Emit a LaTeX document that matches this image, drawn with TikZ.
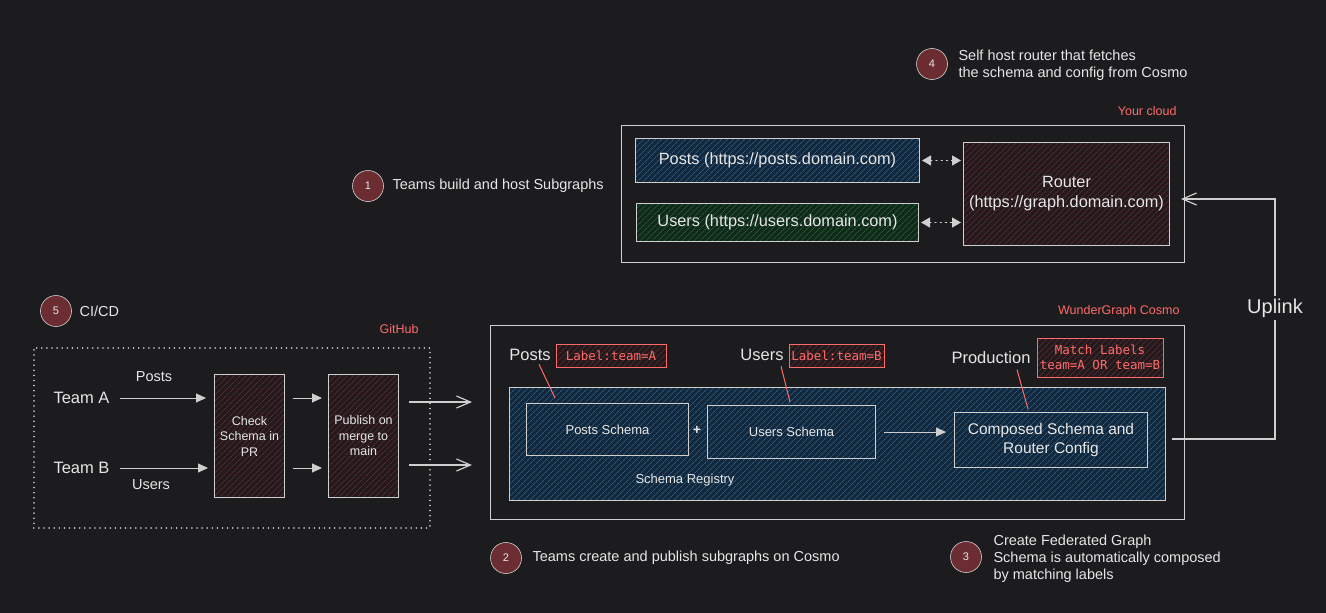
\documentclass[tikz,border=0pt]{standalone}
\usepackage{fontspec}
\setmainfont{Liberation Sans}
\newfontfamily\monof{DejaVu Sans Mono}
\usetikzlibrary{arrows.meta,patterns.meta,calc}
\definecolor{bg}{HTML}{1C1C1F}
\definecolor{stroke}{HTML}{CFCFCF}
\definecolor{txt}{HTML}{E6E6E6}
\definecolor{redT}{HTML}{FF6B6B}
\definecolor{circF}{HTML}{6B2D31}
\definecolor{blueF}{HTML}{13283B}
\definecolor{blueH}{HTML}{2B5C88}
\definecolor{greenF}{HTML}{11291A}
\definecolor{greenH}{HTML}{225E33}
\definecolor{redF}{HTML}{221A1C}
\definecolor{redH}{HTML}{5E2A2F}
\begin{document}
\begin{tikzpicture}[x=1pt,y=-1pt,
  fbig/.style={font=\fontsize{16.3}{20}\selectfont},
  fmid/.style={font=\fontsize{14.5}{17}\selectfont},
  fsmall/.style={font=\fontsize{13}{15.5}\selectfont},
  fsmaller/.style={font=\fontsize{12.5}{15.5}\selectfont},
  flab/.style={font=\fontsize{16.5}{20}\selectfont},
  box/.style={draw=stroke, line width=1pt, inner sep=2pt, align=center, text=txt, anchor=north west},
  frame/.style={draw=stroke, line width=1.2pt, anchor=north west},
  hblue/.style={preaction={fill=blueF}, preaction={pattern={Lines[angle=45,distance=4pt,line width=0.8pt]}, pattern color=blueH}},
  hgreen/.style={preaction={fill=greenF}, preaction={pattern={Lines[angle=45,distance=4pt,line width=0.8pt]}, pattern color=greenH}},
  hred/.style={preaction={fill=redF}, preaction={pattern={Lines[angle=45,distance=4pt,line width=0.8pt]}, pattern color=redH}},
  num/.style={circle, draw=stroke, line width=0.6pt, fill=circF, minimum size=31pt, inner sep=0pt, text=txt, font=\fontsize{11}{13}\selectfont},
  note/.style={text=txt, anchor=west, align=left, fmid},
  redlbl/.style={text=redT, font=\fontsize{12.5}{14}\selectfont},
  tagbox/.style={draw=redT, line width=1pt, hred, text=redT, align=center, inner sep=2pt, font=\monof\fontsize{12.5}{15}\selectfont},
  plain/.style={text=txt, align=center},
  arr/.style={draw=stroke, line width=1pt, -{Triangle[length=10pt,width=9pt]}},
  openarr/.style={draw=stroke, line width=1.2pt, -{Straight Barb[length=14pt,width=12pt]}},
  dblarr/.style={draw=stroke, line width=1.2pt, dash pattern=on 1.2pt off 4pt, line cap=round, {Triangle[length=9pt,width=10pt]}-{Triangle[length=9pt,width=10pt]}, shorten <=2pt, shorten >=2pt},
  redline/.style={draw=redT, line width=1pt}
]
\fill[bg] (0,0) rectangle (1326,613);
\useasboundingbox (0,0) rectangle (1326,613);

% --- Your cloud ---
\node[num] (n4) at (932,64) {4};
\node[note] (t4) at (955,65) {Self host router that fetches\\the schema and config from Cosmo};
\node[redlbl, anchor=east] (ycl) at (1180,111) {Your cloud};
\node[frame, minimum width=563, minimum height=137] (cloud) at (621,125) {};
\node[box, hblue, minimum width=284, minimum height=44, fbig] (posts) at (635,138) {Posts (https://posts.domain.com)};
\node[box, hgreen, minimum width=282, minimum height=38, fbig] (users) at (636,203) {Users (https://users.domain.com)};
\node[box, hred, minimum width=206, minimum height=103, fbig] (router) at (963,142) {Router\\(https://graph.domain.com)};
\draw[dblarr] (posts.east) -- (posts.east -| router.west);
\draw[dblarr] (users.east) -- (users.east -| router.west);

% --- step 1 ---
\node[num] (n1) at (368,186) {1};
\node[note] (t1) at (389,186) {Teams build and host Subgraphs};

% --- GitHub ---
\node[num] (n5) at (56,311) {5};
\node[note] (t5) at (76,311) {CI/CD};
\node[redlbl, anchor=east] (ghl) at (422,329) {GitHub};
\node[anchor=north west, draw=stroke, line width=1.5pt, dash pattern=on 0.1pt off 5pt, line cap=round, minimum width=396, minimum height=180] (gh) at (33,347) {};
\node[plain, anchor=west, flab] (ta) at (50,398) {Team A};
\node[plain, anchor=west, flab] (tb) at (50,468) {Team B};
\node[box, hred, minimum width=70, minimum height=123, fsmaller] (check) at (214,374) {Check\\Schema in\\PR};
\node[box, hred, minimum width=70, minimum height=123, fsmaller] (publish) at (328,374) {Publish on\\merge to\\main};
\draw[arr, shorten <=7pt, shorten >=8pt] (ta.east) -- (check.west |- ta.east);
\draw[arr, shorten <=7pt, shorten >=6pt] (tb.east) -- (check.west |- tb.east);
\node[plain, fmid] (lp) at (154,377) {Posts};
\node[plain, fmid] (lu) at (151,485) {Users};
\draw[arr, shorten <=8pt, shorten >=6pt] (check.east |- ta.east) -- (publish.west |- ta.east);
\draw[arr, shorten <=8pt, shorten >=6pt] (check.east |- tb.east) -- (publish.west |- tb.east);

% --- Cosmo ---
\node[redlbl, anchor=east] (wgl) at (1183,311) {WunderGraph Cosmo};
\node[frame, minimum width=694, minimum height=194] (cosmo) at (490,325) {};
\coordinate (ya) at (0,402);
\coordinate (yb) at (0,465);
\draw[openarr, shorten <=10pt, shorten >=18pt] (publish.east |- ya) -- (cosmo.west |- ya);
\draw[openarr, shorten <=10pt, shorten >=18pt] (publish.east |- yb) -- (cosmo.west |- yb);

\node[box, hblue, minimum width=656, minimum height=113] (registry) at (509,387) {};
\node[plain, fsmall] (regl) at (685,480) {Schema Registry};
\node[box, minimum width=162, minimum height=52, fsmall] (postsS) at (526,403) {Posts Schema};
\node[box, minimum width=168, minimum height=53, fsmall] (usersS) at (707,405) {Users Schema};
\node[plain, font=\bfseries\fontsize{14}{16}\selectfont] (plus) at (697,430) {+};
\node[box, minimum width=193, minimum height=55, font=\fontsize{15.5}{19.5}\selectfont] (composed) at (954,412) {Composed Schema and\\Router Config};
\draw[arr, shorten <=8pt, shorten >=8pt] (usersS.east) -- (composed.west |- usersS.east);

\node[plain, flab] (postsL) at (530,355) {Posts};
\node[tagbox, minimum width=110, minimum height=23] (labA) at (611,355.5) {Label:team=A};
\node[plain, flab] (usersL) at (762,355) {Users};
\node[tagbox, minimum width=95, minimum height=23] (labB) at (836.5,355.5) {Label:team=B};
\node[plain, flab] (prodL) at (991,358) {Production};
\node[tagbox, minimum width=126, minimum height=39, font=\monof\fontsize{12.5}{14.5}\selectfont] (match) at (1100,357.5) {Match Labels\\team=A OR team=B};
\coordinate (pa) at (555,398);
\coordinate (pb) at (790,402);
\coordinate (pc) at (1028,409);
\draw[redline] ($(postsL.south)+(9,0)$) -- (pa);
\draw[redline] ($(usersL.south)+(19,2)$) -- (pb);
\draw[redline] ($(prodL.south)+(26,2)$) -- (pc);

% --- Uplink ---
\coordinate (ups) at (1172,439);
\coordinate (upc) at (1275,199);
\draw[openarr, shorten >=11pt] (ups) -| (upc) -- (router.east |- upc);
\node[plain, fill=bg, font=\fontsize{20}{24}\selectfont, inner sep=3pt] (uplink) at (1275,308) {Uplink};

% --- steps 2, 3 ---
\node[num] (n2) at (506,558) {2};
\node[note] (t2) at (529,558) {Teams create and publish subgraphs on Cosmo};
\node[num] (n3) at (966,557) {3};
\node[note] (t3) at (990,559) {Create Federated Graph\\Schema is automatically composed\\by matching labels};
\end{tikzpicture}
\end{document}
